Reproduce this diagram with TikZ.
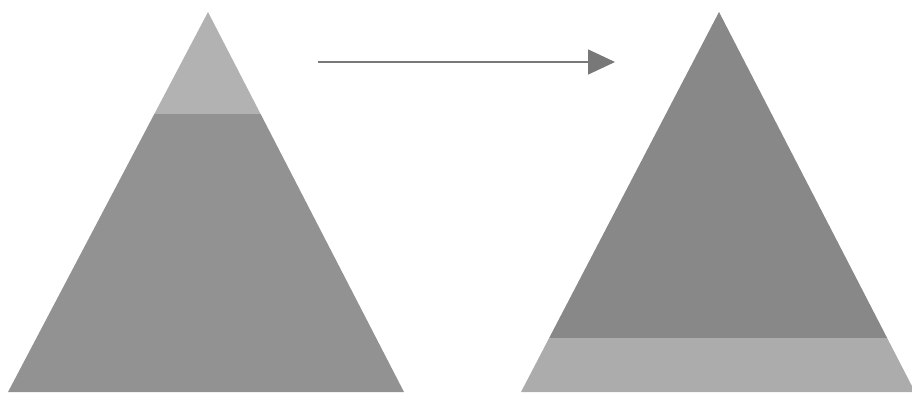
\documentclass[tikz,border=0pt]{standalone}
\usetikzlibrary{arrows.meta}
\definecolor{lighttop}{RGB}{178,178,178}
\definecolor{darkbody}{RGB}{146,146,146}
\definecolor{darkbodyR}{RGB}{136,136,136}
\definecolor{lightbase}{RGB}{172,172,172}
\definecolor{arrowgray}{RGB}{120,120,120}
\tikzset{
  arrowline/.style={draw=arrowgray, line width=1.4pt, -{Triangle[length=27pt,width=25pt]}}
}
\begin{document}
\begin{tikzpicture}[x=1pt,y=-1pt]
\useasboundingbox (0,0) rectangle (912,393);
% left triangle
\begin{scope}
  \clip (208,12) -- (404,392) -- (8,392) -- cycle;
  \fill[lighttop] (0,0) rectangle (456,114);
  \fill[darkbody] (0,114) rectangle (456,393);
\end{scope}
% right triangle
\begin{scope}
  \clip (719,12) -- (915,392) -- (521,392) -- cycle;
  \fill[darkbodyR] (456,0) rectangle (912,338);
  \fill[lightbase] (456,338) rectangle (912,393);
\end{scope}
% arrow
\coordinate (astart) at (318,62);
\coordinate (aend) at (615,62);
\draw[arrowline] (astart) -- (aend);
\end{tikzpicture}
\end{document}
